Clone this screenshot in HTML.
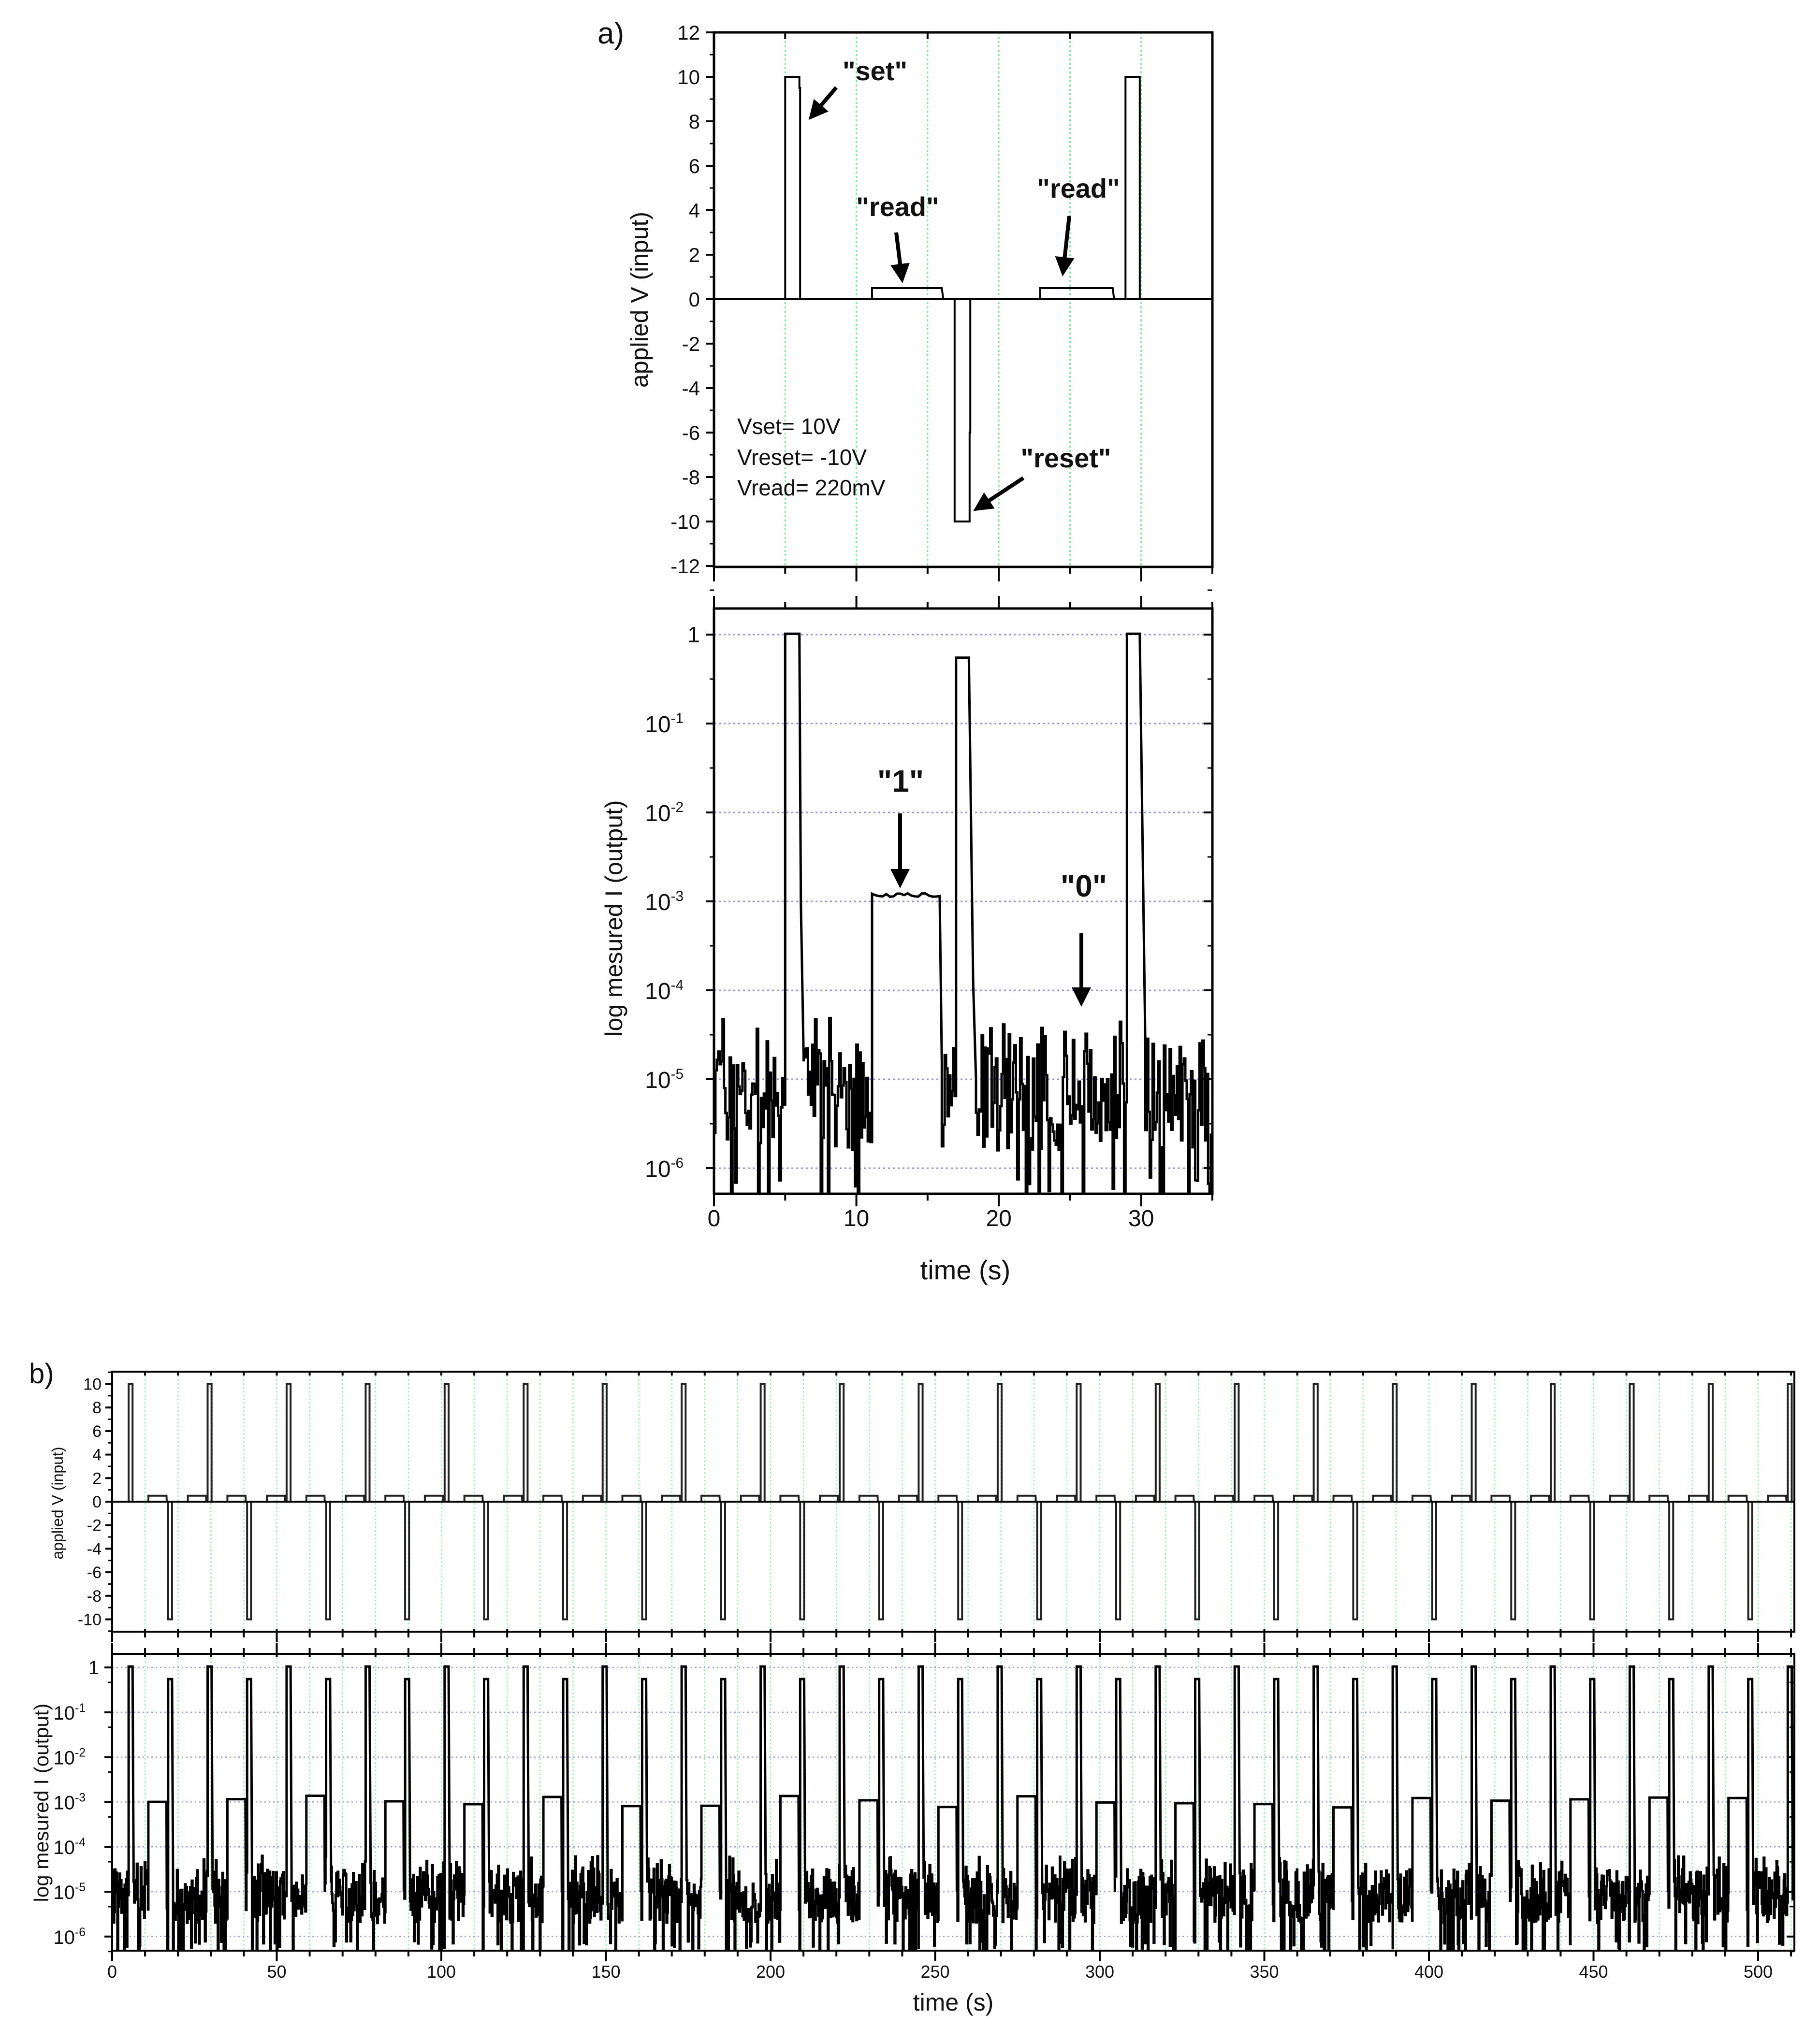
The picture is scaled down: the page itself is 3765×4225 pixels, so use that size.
<!DOCTYPE html>
<html><head><meta charset="utf-8"><style>
html,body{margin:0;padding:0;background:#fff;}
svg{display:block;}
text{font-family:"Liberation Sans",Arial,sans-serif;fill:#111;}
</style></head><body>
<svg id="s" width="3765" height="4225" viewBox="0 0 3765 4225" xmlns="http://www.w3.org/2000/svg">
<defs>
<clipPath id="ca1"><rect x="1477" y="67" width="1031" height="1106"/></clipPath>
<clipPath id="ca2"><rect x="1477" y="1259" width="1031" height="1211"/></clipPath>
<clipPath id="cb1"><rect x="232" y="2838" width="3480" height="538"/></clipPath>
<clipPath id="cb2"><rect x="232" y="3422" width="3480" height="614"/></clipPath>
<marker id="ar" viewBox="0 0 10 10" refX="8" refY="5" markerWidth="5" markerHeight="5" orient="auto"><path d="M0,0 L10,5 L0,10 z" fill="#000"/></marker>
</defs>
<g id="g"></g>
<text x="1236" y="90" font-size="62">a)</text>
<text x="60" y="2862" font-size="58">b)</text>
<text transform="translate(1340,620) rotate(-90)" font-size="50" text-anchor="middle">applied V (input)</text>
<text transform="translate(1287,1900) rotate(-90)" font-size="50" text-anchor="middle">log mesured I (output)</text>
<text x="1997" y="2647" font-size="56" text-anchor="middle">time (s)</text>
<text transform="translate(130,3110) rotate(-90)" font-size="32" text-anchor="middle">applied V (input)</text>
<text transform="translate(100,3730) rotate(-90)" font-size="42" text-anchor="middle">log mesured I (output)</text>
<text x="1972" y="4160" font-size="50" text-anchor="middle">time (s)</text>
<g font-weight="bold" font-size="56">
<text x="1810" y="166" text-anchor="middle">"set"</text>
<text x="1857" y="447" text-anchor="middle">"read"</text>
<text x="2231" y="409" text-anchor="middle">"read"</text>
<text x="2205" y="967" text-anchor="middle">"reset"</text>
<text x="1863" y="1638" text-anchor="middle" font-size="64">"1"</text>
<text x="2242" y="1855" text-anchor="middle" font-size="64">"0"</text>
</g>
<g font-size="46">
<text x="1525" y="898">Vset= 10V</text>
<text x="1525" y="962">Vreset= -10V</text>
<text x="1525" y="1025">Vread= 220mV</text>
</g>
<g stroke="#000" stroke-width="8" marker-end="url(#ar)">
<line x1="1730" y1="181" x2="1678" y2="242"/>
<line x1="1854" y1="481" x2="1866" y2="578"/>
<line x1="2212" y1="447" x2="2199" y2="564"/>
<line x1="2117" y1="989" x2="2020" y2="1053"/>
<line x1="1862" y1="1683" x2="1862" y2="1830"/>
<line x1="2237" y1="1931" x2="2237" y2="2075"/>
</g>
</svg>
<script>
var NS="http://www.w3.org/2000/svg",G=document.getElementById("g");
function el(n,a,p){var e=document.createElementNS(NS,n);for(var k in a)e.setAttribute(k,a[k]);(p||G).appendChild(e);return e;}
function txt(x,y,s,fs,anc,sup){var t=el("text",{x:x,y:y,"font-size":fs,"text-anchor":anc||"middle"});t.textContent=s;if(sup){var ts=document.createElementNS(NS,"tspan");ts.setAttribute("dy",-fs*0.4);ts.setAttribute("font-size",fs*0.62);ts.textContent=sup;t.appendChild(ts);}return t;}
function line(x1,y1,x2,y2,w,c,da){var a={x1:x1,y1:y1,x2:x2,y2:y2,stroke:c||"#000","stroke-width":w||3};if(da)a["stroke-dasharray"]=da;return el("line",a);}
var seed=12345;function rnd(){seed=(seed*1103515245+12345)%2147483648;return seed/2147483648;}
function pathD(pts){var d="";for(var i=0;i<pts.length;i++)d+=(i?"L":"M")+pts[i][0].toFixed(1)+","+pts[i][1].toFixed(1);return d;}

var ax0=1477,asx=29.457;
function ax(t){return ax0+asx*t;}
function ay1(v){return 619-46*v;}
for(var t=5;t<=30;t+=5)line(ax(t),67,ax(t),1173,3,"#7be89a","4,5");
var pA=[[0,0],[5,0],[5,10],[6,10],[6,9.5],[6.05,9.5],[6.05,0],[11.1,0],[11.1,.5],[16,.5],[16.1,0],[16.9,0],[16.9,-10],[17.95,-10],[17.95,-6],[18,-6],[18,0],[22.9,0],[22.9,.5],[28,.5],[28.1,0],[28.9,0],[28.9,10],[29.9,10],[29.9,0],[35,0]];
el("path",{d:pathD(pA.map(function(p){return[ax(p[0]),ay1(p[1])]})),fill:"none",stroke:"#000","stroke-width":4,"clip-path":"url(#ca1)"});
el("rect",{x:1477,y:67,width:1031,height:1106,fill:"none",stroke:"#000","stroke-width":5});
line(1477,619,2508,619,4);
for(var v=-12;v<=12;v+=1){var y=ay1(v);if(v%2==0){line(1460,y,1477,y,4);txt(1448,y+15,String(v),42,"end");}else line(1468,y,1477,y,3);}
for(var t=0;t<=35;t+=5){var L=(t%10==0)?30:14;line(ax(t),1173,ax(t),1173+L,4);line(ax(t),67,ax(t),67+(t%10==0?0:14),4);}

var DY=184;function ay2(d){return 1313-DY*d;}
for(var d=0;d>=-6;d--)line(1477,ay2(d),2508,ay2(d),3,"#8f8ff0","4,6");
seed=777;
function noise(){var r=rnd();var base=-5.15+(rnd()-0.5)*1.3;if(r<0.08)base=-6.1-rnd()*0.5;if(r>0.96)base=-4.6+rnd()*0.3;return base;}
var pts=[];var st=0.1;
function addNoise(t0,t1){for(var t=t0;t<t1;t+=st){var v=noise();pts.push([t,v]);pts.push([Math.min(t+st,t1),v]);}}
addNoise(0,5);pts.push([5,0.01]);pts.push([6,0.01]);pts.push([6.1,-3]);pts.push([6.3,-4.8]);
addNoise(6.3,11.1);pts.push([11.1,-2.93]);for(var t=11.1;t<=16;t+=0.25)pts.push([t,-2.93+(rnd()-0.5)*0.04]);pts.push([16,-4.8]);
addNoise(16,17);pts.push([17,-0.26]);pts.push([17.9,-0.26]);pts.push([18.2,-3.9]);pts.push([18.4,-5]);
addNoise(18.4,29);pts.push([29,0.01]);pts.push([29.9,0.01]);pts.push([30.3,-4.7]);addNoise(30.3,35);
el("path",{d:pathD(pts.map(function(p){return[ax(p[0]),ay2(p[1])]})),fill:"none",stroke:"#000","stroke-width":5,"clip-path":"url(#ca2)"});
el("rect",{x:1477,y:1259,width:1031,height:1211,fill:"none",stroke:"#000","stroke-width":5});
for(var d=0;d>=-6;d--){var y=ay2(d);line(1460,y,1477,y,4);line(2490,y,2508,y,4);line(1468,y-DY/2,1477,y-DY/2,3);line(2498,y-DY/2,2508,y-DY/2,3);
 if(d==0)txt(1448,y+16,"1",46,"end");else txt(1448-34,y+18,"10",48,"end","-"+(-d));}
for(var t=0;t<=35;t+=5){var L=(t%10==0)?26:14;line(ax(t),2470,ax(t),2470+L,4);line(ax(t),1259-L,ax(t),1259,4);if(t%10==0)txt(ax(t),2537,String(t),48);}

var bx0=232,bsx=6.81;function bx(t){return bx0+bsx*t;}
function by1(v){return 3107-24.35*v;}
var BD=92.8;function by2(d){return 3450-BD*d;}
for(var t=10;t<=510;t+=10){line(bx(t),2838,bx(t),3376,2.5,"#8ff0aa","3,5");line(bx(t),3422,bx(t),4036,2.5,"#8ff0aa","3,5");}
for(var d=0;d>=-6;d--)line(232,by2(d),3712,by2(d),2.5,"#9a9af0","3,6");
var pb=[[0,0]],pc=[];seed=4242;
function bn(){var r=rnd();var b=-5.1+(rnd()-0.5)*1.2;if(r<0.1)b=-6.1-rnd()*0.4;if(r>0.95)b=-4.5+rnd()*0.3;return b;}
function bnoise(t0,t1){var s=0.2;for(var t=t0;t<t1;t+=s){var v=bn();pc.push([t,v]);pc.push([Math.min(t+s,t1),v]);}}
for(var k=0;k<22;k++){var o=24*k;if(o>511)break;
 pb.push([o+5,0],[o+5,10],[o+6.2,10],[o+6.2,0],[o+11,0],[o+11,.5],[o+16.5,.5],[o+16.6,0],[o+17,0],[o+17,-10],[o+18.2,-10],[o+18.2,0],[o+23,0],[o+23,.5],[o+28.5,.5],[o+28.6,0]);
 bnoise(o,o+5);pc.push([o+5,0.02],[o+6.2,0.02],[o+6.5,-4.5]);bnoise(o+6.5,o+11);
 var lv=-3+(rnd()-0.5)*0.3;pc.push([o+11,lv],[o+16.5,lv],[o+16.6,-5]);bnoise(o+16.6,o+17);
 pc.push([o+17,-0.26],[o+18.2,-0.26],[o+18.5,-4.8]);bnoise(o+18.5,o+24);
}
pb.push([511,0]);
el("path",{d:pathD(pb.map(function(p){return[bx(p[0]),by1(p[1])]})),fill:"none",stroke:"#222","stroke-width":4,"clip-path":"url(#cb1)"});
el("path",{d:pathD(pc.map(function(p){return[bx(p[0]),by2(p[1])]})),fill:"none",stroke:"#000","stroke-width":5,"clip-path":"url(#cb2)"});
el("rect",{x:232,y:2838,width:3480,height:538,fill:"none",stroke:"#000","stroke-width":4});
el("rect",{x:232,y:3422,width:3480,height:614,fill:"none",stroke:"#000","stroke-width":4});
line(232,3107,3712,3107,4);
for(var v=-11;v<=11;v++){var y=by1(v);if(v%2==0){line(218,y,232,y,4);txt(210,y+12,String(v),34,"end");}else line(224,y,232,y,3);}
for(var d=0;d>=-6;d--){var y=by2(d);line(216,y,232,y,4);line(3696,y,3712,y,4);line(224,y+BD/3,232,y+BD/3,3);line(3702,y+BD/3,3712,y+BD/3,3);
 if(d==0)txt(205,y+14,"1",40,"end");else txt(205-28,y+15,"10",40,"end","-"+(-d));}
for(var t=0;t<=510;t+=10){var L=(t%50==0)?22:12;line(bx(t),3376-6,bx(t),3376+L,4);line(bx(t),3422-L,bx(t),3422+6,4);line(bx(t),4036,bx(t),4036+L,4);line(bx(t),2838,bx(t),2838+8,4);
 if(t%50==0)txt(bx(t),4092,String(t),36);}
</script>
</body></html>
